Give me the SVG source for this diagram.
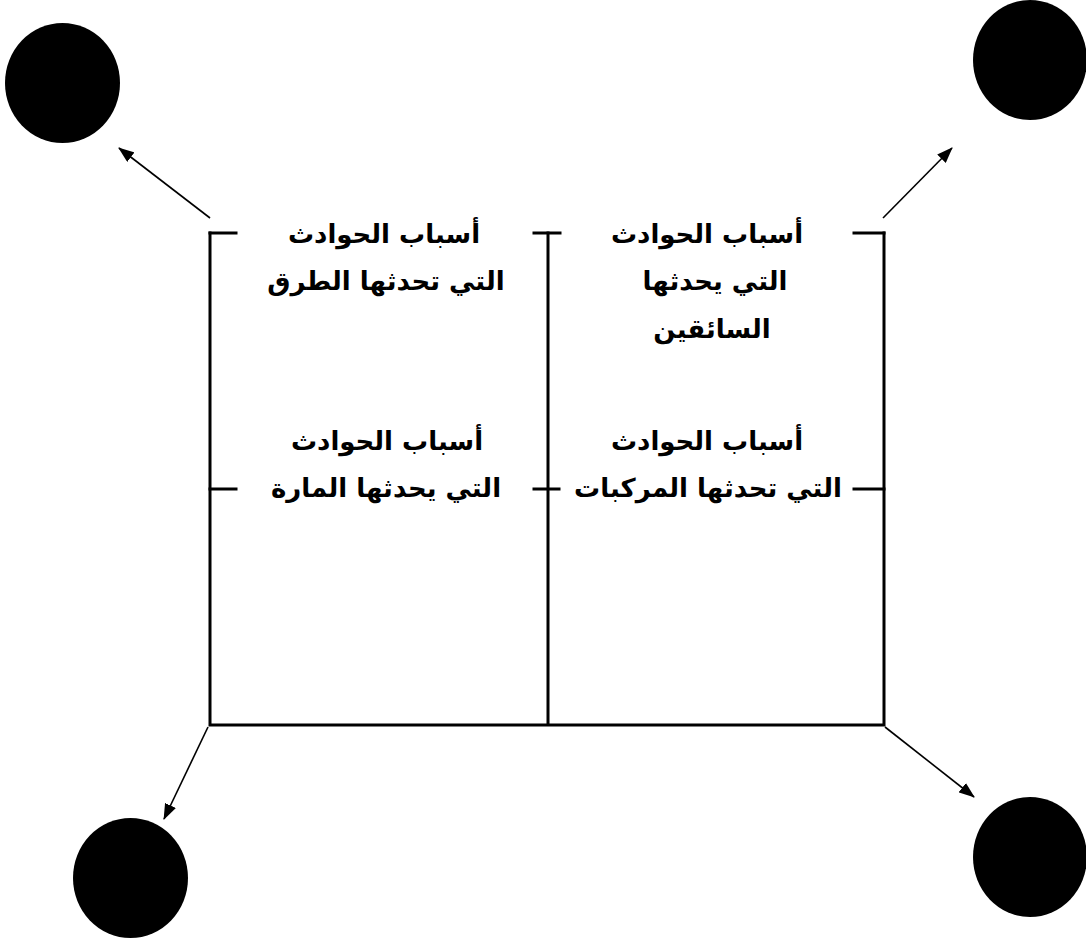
<svg xmlns="http://www.w3.org/2000/svg" width="1086" height="942" viewBox="0 0 1086 942">
<style>
.frame{stroke:#000;stroke-width:3;fill:none;stroke-linecap:square}
.arrow{stroke:#000;stroke-width:1.6;fill:none}
.dot{fill:#000}
.lbl{font-family:"DejaVu Sans","Noto Sans",sans-serif;font-weight:bold;font-size:26px;fill:#000;text-anchor:middle;direction:rtl}
</style>
<defs>
<marker id="ah" markerWidth="16" markerHeight="12" refX="15" refY="6" orient="auto" markerUnits="userSpaceOnUse" viewBox="0 0 16 12">
<path d="M0,0 L16,6 L0,12 Z" fill="#000"/>
</marker>
</defs>
<rect width="1086" height="942" fill="#fff"/>
<g id="circle-tl"><ellipse class="dot" cx="62.5" cy="83" rx="57.5" ry="60"/></g>
<g id="circle-tr"><ellipse class="dot" cx="1030" cy="60" rx="57" ry="60"/></g>
<g id="circle-bl"><ellipse class="dot" cx="130.5" cy="878" rx="57.5" ry="60"/></g>
<g id="circle-br"><ellipse class="dot" cx="1030" cy="857" rx="57" ry="60"/></g>
<g id="frame">
<path class="frame" d="M210,233 V725 H884 V233 M548,233 V725"/>
<path class="frame" d="M210,233 H236 M534,233 H560 M854,233 H884"/>
<path class="frame" d="M210,489 H236 M534,489 H559 M854,489 H884"/>
</g>
<g id="connectors">
<line class="arrow" x1="210" y1="218" x2="119" y2="148" marker-end="url(#ah)"/>
<line class="arrow" x1="883" y1="218" x2="952" y2="148" marker-end="url(#ah)"/>
<line class="arrow" x1="208" y1="727" x2="164" y2="819" marker-end="url(#ah)"/>
<line class="arrow" x1="885" y1="727" x2="974" y2="797" marker-end="url(#ah)"/>
</g>
<g id="node-roads">
<text class="lbl" x="384" y="243">أسباب الحوادث</text>
<text class="lbl" x="386" y="290">التي تحدثها الطرق</text>
</g>
<g id="node-drivers">
<text class="lbl" x="707" y="243">أسباب الحوادث</text>
<text class="lbl" x="715" y="290">التي يحدثها</text>
<text class="lbl" x="712" y="338">السائقين</text>
</g>
<g id="node-pedestrians">
<text class="lbl" x="387" y="450">أسباب الحوادث</text>
<text class="lbl" x="386" y="497">التي يحدثها المارة</text>
</g>
<g id="node-vehicles">
<text class="lbl" x="707" y="450">أسباب الحوادث</text>
<text class="lbl" x="708" y="497">التي تحدثها المركبات</text>
</g>
</svg>
